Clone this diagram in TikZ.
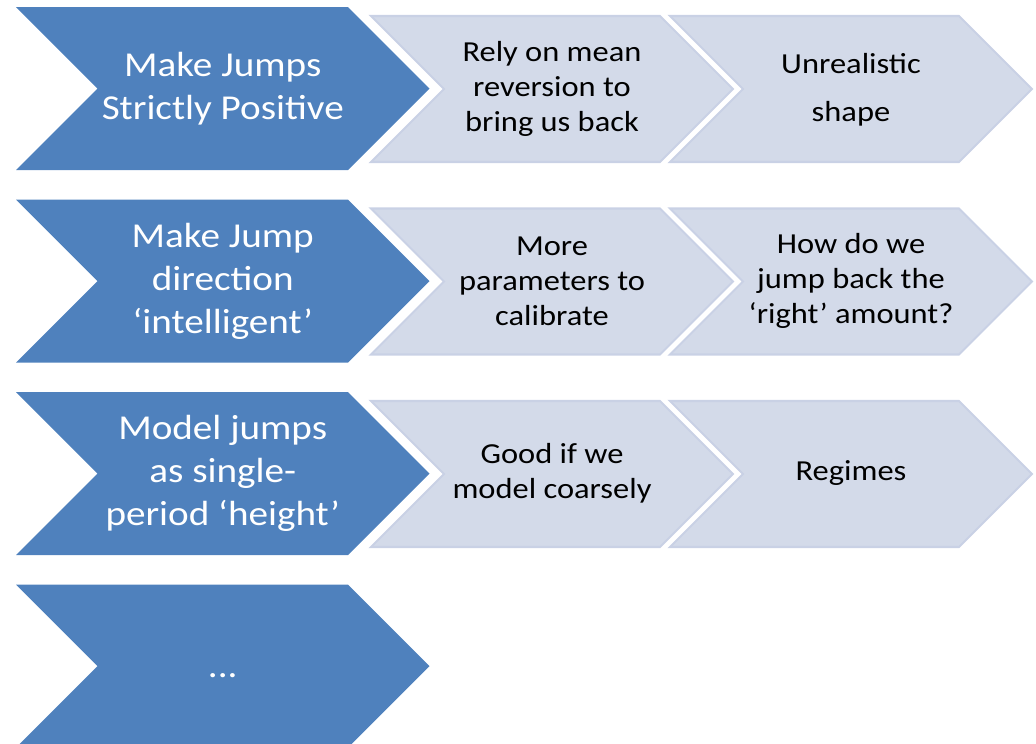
\documentclass[tikz,border=0pt]{standalone}
\usepackage{fontspec}
\setmainfont{Carlito}[FakeStretch=1.12]
\definecolor{mainblue}{RGB}{79,129,189}
\definecolor{detailfill}{RGB}{211,218,233}
\definecolor{detailedge}{RGB}{201,209,229}

\begin{document}
\begin{tikzpicture}[
  x=0.02cm, y=-0.02cm,
  % chevron with its top left corner at the pic origin: top width / half height
  pics/chevron/.style args={#1/#2}{code={
    \path[pic actions] (0,0) -- (#1,0) -- (#1+#2,#2) -- (#1,2*#2)
      -- (0,2*#2) -- (#2,#2) -- cycle;
  }},
  main/.style={fill=mainblue},
  detail/.style={fill=detailfill, draw=detailedge, line width=1.2pt},
  maintext/.style={text=white, align=center, inner sep=0pt,
    font=\fontsize{19.9}{24.4}\selectfont},
  detailtext/.style={text=black, align=center, inner sep=0pt,
    font=\fontsize{16.5}{19.9}\selectfont}
]
\useasboundingbox (0,0) rectangle (1036,744);
\clip (0,0) rectangle (1036,744);

% light chevrons first, the blue ones lie over them
\foreach \top in {16, 208.5, 401} {
  \pic[detail] at (371,\top) {chevron=289/73};
  \pic[detail] at (670,\top) {chevron=289/73};
}
\foreach \top in {7, 199.5, 392, 584.5}
  \pic[main] at (16,\top) {chevron=332/81.5};

% first row
\node[maintext] (jumps pos) at (222.75,88.5) {Make Jumps\\Strictly Positive};
\node[detailtext] (mean rev) at (552,88.5) {Rely on mean\\reversion to\\bring us back};
\node[detailtext] (shape) at (851,90) {Unrealistic\\[7.3pt]shape};

% second row
\node[maintext] (jump dir) at (222.75,281) {Make Jump\\direction\\‘intelligent’};
\node[detailtext] (params) at (552,281) {More\\parameters to\\calibrate};
\node[detailtext] (jump back) at (851,281) {How do we\\jump back the\\‘right’ amount?};

% third row
\node[maintext] (height) at (222.75,473.5) {Model jumps\\as single-\\period ‘height’};
\node[detailtext] (coarse) at (552,473.5) {Good if we\\model coarsely};
\node[detailtext] (regimes) at (851,473.5) {Regimes};

% last row
\node[maintext] (more) at (222.75,676) {...};
\end{tikzpicture}
\end{document}
